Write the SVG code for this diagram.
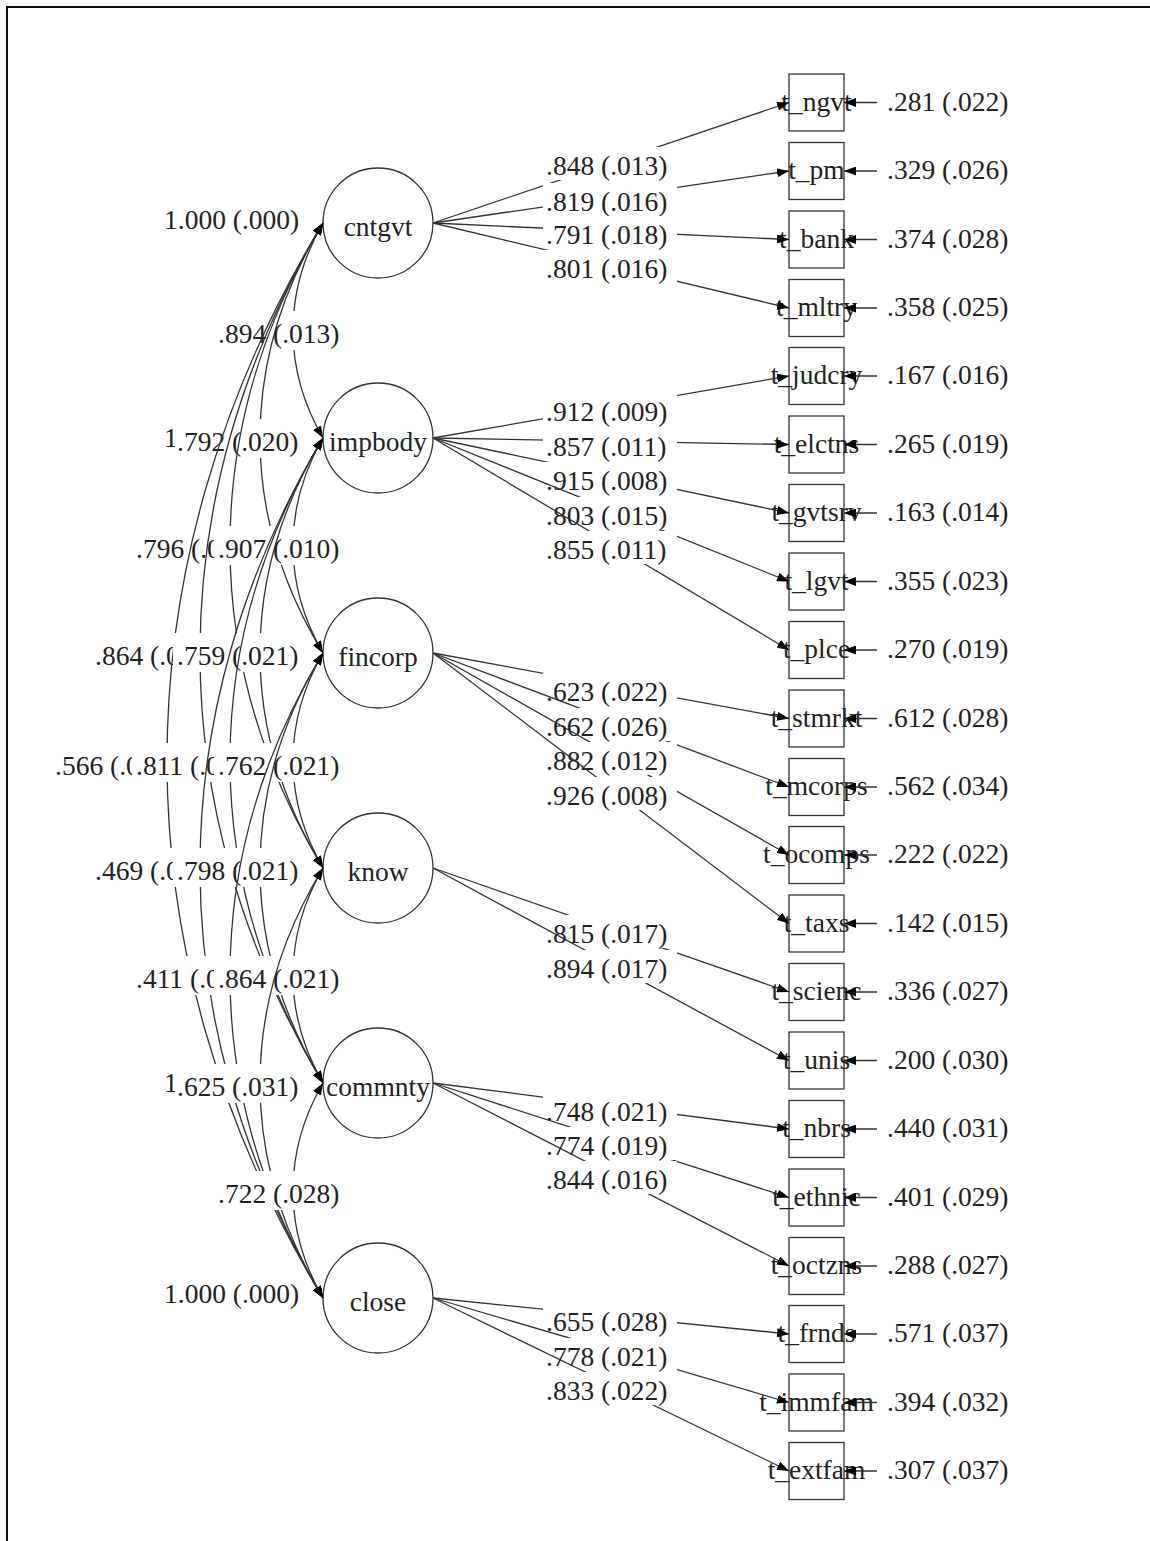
<svg xmlns="http://www.w3.org/2000/svg" width="1150" height="1541" viewBox="0 0 1150 1541">
<style>
.t{font-family:"Liberation Serif","Times New Roman",serif;font-size:27.5px;fill:#222}
.m{text-anchor:middle}
.n{fill:#fff;stroke:#333;stroke-width:1.3}
.c{fill:none;stroke:#333;stroke-width:1.3}
.bg{fill:#fff}
</style>
<defs>
<marker id="ah" viewBox="0 0 12 9" refX="12" refY="4.5" markerWidth="12" markerHeight="9" markerUnits="userSpaceOnUse" orient="auto-start-reverse">
<path d="M0,0 L12,4.5 L0,9 z" fill="#000"/>
</marker>
</defs>
<rect x="0" y="0" width="1150" height="1541" fill="#fff"/>
<path d="M7,1541 V7 H1150" fill="none" stroke="#111" stroke-width="2"/>

<g id="latents">
<g id="cntgvt"><circle class="n" cx="378" cy="223" r="55"/><text class="t m" x="378" y="236">cntgvt</text><text class="t" x="164" y="229">1.000 (.000)</text></g>
<g id="impbody"><circle class="n" cx="378" cy="438" r="55"/><text class="t m" x="378" y="451">impbody</text><text class="t" x="164" y="447">1</text></g>
<g id="fincorp"><circle class="n" cx="378" cy="653" r="55"/><text class="t m" x="378" y="666">fincorp</text></g>
<g id="know"><circle class="n" cx="378" cy="868" r="55"/><text class="t m" x="378" y="881">know</text></g>
<g id="commnty"><circle class="n" cx="378" cy="1083" r="55"/><text class="t m" x="378" y="1096">commnty</text><text class="t" x="164" y="1092">1</text></g>
<g id="close"><circle class="n" cx="378" cy="1298" r="55"/><text class="t m" x="378" y="1311">close</text><text class="t" x="164" y="1303">1.000 (.000)</text></g>
</g>

<g id="indicators">
<g id="t_ngvt"><rect class="n" x="789" y="74" width="55" height="57"/><text class="t m" x="816.5" y="110.5">t_ngvt</text></g>
<g id="t_pm"><rect class="n" x="789" y="142.5" width="55" height="57"/><text class="t m" x="816.5" y="179">t_pm</text></g>
<g id="t_bank"><rect class="n" x="789" y="211" width="55" height="57"/><text class="t m" x="816.5" y="247.5">t_bank</text></g>
<g id="t_mltry"><rect class="n" x="789" y="279.5" width="55" height="57"/><text class="t m" x="816.5" y="316">t_mltry</text></g>
<g id="t_judcry"><rect class="n" x="789" y="347.5" width="55" height="57"/><text class="t m" x="816.5" y="384">t_judcry</text></g>
<g id="t_elctns"><rect class="n" x="789" y="416" width="55" height="57"/><text class="t m" x="816.5" y="452.5">t_elctns</text></g>
<g id="t_gvtsrv"><rect class="n" x="789" y="484.5" width="55" height="57"/><text class="t m" x="816.5" y="521">t_gvtsrv</text></g>
<g id="t_lgvt"><rect class="n" x="789" y="553" width="55" height="57"/><text class="t m" x="816.5" y="589.5">t_lgvt</text></g>
<g id="t_plce"><rect class="n" x="789" y="621.5" width="55" height="57"/><text class="t m" x="816.5" y="658">t_plce</text></g>
<g id="t_stmrkt"><rect class="n" x="789" y="690" width="55" height="57"/><text class="t m" x="816.5" y="726.5">t_stmrkt</text></g>
<g id="t_mcorps"><rect class="n" x="789" y="758.5" width="55" height="57"/><text class="t m" x="816.5" y="795">t_mcorps</text></g>
<g id="t_ocomps"><rect class="n" x="789" y="826.5" width="55" height="57"/><text class="t m" x="816.5" y="863">t_ocomps</text></g>
<g id="t_taxs"><rect class="n" x="789" y="895" width="55" height="57"/><text class="t m" x="816.5" y="931.5">t_taxs</text></g>
<g id="t_scienc"><rect class="n" x="789" y="963.5" width="55" height="57"/><text class="t m" x="816.5" y="1000">t_scienc</text></g>
<g id="t_unis"><rect class="n" x="789" y="1032" width="55" height="57"/><text class="t m" x="816.5" y="1068.5">t_unis</text></g>
<g id="t_nbrs"><rect class="n" x="789" y="1100.5" width="55" height="57"/><text class="t m" x="816.5" y="1137">t_nbrs</text></g>
<g id="t_ethnic"><rect class="n" x="789" y="1169" width="55" height="57"/><text class="t m" x="816.5" y="1205.5">t_ethnic</text></g>
<g id="t_octzns"><rect class="n" x="789" y="1237.5" width="55" height="57"/><text class="t m" x="816.5" y="1274">t_octzns</text></g>
<g id="t_frnds"><rect class="n" x="789" y="1305.5" width="55" height="57"/><text class="t m" x="816.5" y="1342">t_frnds</text></g>
<g id="t_immfam"><rect class="n" x="789" y="1374" width="55" height="57"/><text class="t m" x="816.5" y="1410.5">t_immfam</text></g>
<g id="t_extfam"><rect class="n" x="789" y="1442.5" width="55" height="57"/><text class="t m" x="816.5" y="1479">t_extfam</text></g>
</g>

<g id="connectors">
<!-- covariances -->
<g><path class="c" marker-start="url(#ah)" marker-end="url(#ah)" d="M323,223 C283,292 283,369 323,438"/><rect class="bg" x="214" y="311" width="129" height="39"/><text class="t" x="218" y="343">.894 (.013)</text></g>
<g><path class="c" marker-start="url(#ah)" marker-end="url(#ah)" d="M323,223 C239,361 239,515 323,653"/><rect class="bg" x="175" y="419" width="127" height="39"/><text class="t" x="177" y="451">.792 (.020)</text></g>
<g><path class="c" marker-start="url(#ah)" marker-end="url(#ah)" d="M323,223 C199,429 199,662 323,868"/><rect class="bg" x="132" y="526" width="129" height="39"/><text class="t" x="136" y="558">.796 (.0</text></g>
<g><path class="c" marker-start="url(#ah)" marker-end="url(#ah)" d="M323,223 C159,498 159,808 323,1083"/><rect class="bg" x="91" y="633" width="129" height="39"/><text class="t" x="95" y="665">.864 (.0</text></g>
<g><path class="c" marker-start="url(#ah)" marker-end="url(#ah)" d="M323,223 C115,567 115,954 323,1298"/><rect class="bg" x="51" y="743" width="129" height="39"/><text class="t" x="55" y="775">.566 (.0</text></g>
<g><path class="c" marker-start="url(#ah)" marker-end="url(#ah)" d="M323,438 C283,507 283,584 323,653"/><rect class="bg" x="214" y="526" width="129" height="39"/><text class="t" x="218" y="558">.907 (.010)</text></g>
<g><path class="c" marker-start="url(#ah)" marker-end="url(#ah)" d="M323,438 C239,576 239,730 323,868"/><rect class="bg" x="173" y="633" width="129" height="39"/><text class="t" x="177" y="665">.759 (.021)</text></g>
<g><path class="c" marker-start="url(#ah)" marker-end="url(#ah)" d="M323,438 C199,644 199,877 323,1083"/><rect class="bg" x="132" y="743" width="129" height="39"/><text class="t" x="136" y="775">.811 (.0</text></g>
<g><path class="c" marker-start="url(#ah)" marker-end="url(#ah)" d="M323,438 C159,713 159,1023 323,1298"/><rect class="bg" x="91" y="848" width="129" height="39"/><text class="t" x="95" y="880">.469 (.0</text></g>
<g><path class="c" marker-start="url(#ah)" marker-end="url(#ah)" d="M323,653 C283,722 283,799 323,868"/><rect class="bg" x="214" y="743" width="129" height="39"/><text class="t" x="218" y="775">.762 (.021)</text></g>
<g><path class="c" marker-start="url(#ah)" marker-end="url(#ah)" d="M323,653 C239,791 239,945 323,1083"/><rect class="bg" x="173" y="848" width="129" height="39"/><text class="t" x="177" y="880">.798 (.021)</text></g>
<g><path class="c" marker-start="url(#ah)" marker-end="url(#ah)" d="M323,653 C199,859 199,1092 323,1298"/><rect class="bg" x="132" y="956" width="129" height="39"/><text class="t" x="136" y="988">.411 (.0</text></g>
<g><path class="c" marker-start="url(#ah)" marker-end="url(#ah)" d="M323,868 C283,937 283,1014 323,1083"/><rect class="bg" x="214" y="956" width="129" height="39"/><text class="t" x="218" y="988">.864 (.021)</text></g>
<g><path class="c" marker-start="url(#ah)" marker-end="url(#ah)" d="M323,868 C239,1006 239,1160 323,1298"/><rect class="bg" x="175" y="1064" width="127" height="39"/><text class="t" x="177" y="1096">.625 (.031)</text></g>
<g><path class="c" marker-start="url(#ah)" marker-end="url(#ah)" d="M323,1083 C283,1152 283,1229 323,1298"/><rect class="bg" x="214" y="1171" width="129" height="39"/><text class="t" x="218" y="1203">.722 (.028)</text></g>

<!-- loadings -->
<g><line class="c" marker-end="url(#ah)" x1="433" y1="223" x2="789" y2="102.5"/><rect class="bg" x="543" y="147" width="134" height="33"/><text class="t" x="546" y="175">.848 (.013)</text></g>
<g><line class="c" marker-end="url(#ah)" x1="433" y1="223" x2="789" y2="171"/><rect class="bg" x="543" y="183" width="134" height="33"/><text class="t" x="546" y="211">.819 (.016)</text></g>
<g><line class="c" marker-end="url(#ah)" x1="433" y1="223" x2="789" y2="239.5"/><rect class="bg" x="543" y="216" width="134" height="33"/><text class="t" x="546" y="244">.791 (.018)</text></g>
<g><line class="c" marker-end="url(#ah)" x1="433" y1="223" x2="789" y2="308"/><rect class="bg" x="543" y="250" width="134" height="33"/><text class="t" x="546" y="278">.801 (.016)</text></g>

<g><line class="c" marker-end="url(#ah)" x1="433" y1="438" x2="789" y2="376"/><rect class="bg" x="543" y="393" width="134" height="33"/><text class="t" x="546" y="421">.912 (.009)</text></g>
<g><line class="c" marker-end="url(#ah)" x1="433" y1="438" x2="789" y2="444.5"/><rect class="bg" x="543" y="428" width="134" height="33"/><text class="t" x="546" y="456">.857 (.011)</text></g>
<g><line class="c" marker-end="url(#ah)" x1="433" y1="438" x2="789" y2="513"/><rect class="bg" x="543" y="462" width="134" height="33"/><text class="t" x="546" y="490">.915 (.008)</text></g>
<g><line class="c" marker-end="url(#ah)" x1="433" y1="438" x2="789" y2="581.5"/><rect class="bg" x="543" y="497" width="134" height="33"/><text class="t" x="546" y="525">.803 (.015)</text></g>
<g><line class="c" marker-end="url(#ah)" x1="433" y1="438" x2="789" y2="650"/><rect class="bg" x="543" y="531" width="134" height="33"/><text class="t" x="546" y="559">.855 (.011)</text></g>

<g><line class="c" marker-end="url(#ah)" x1="433" y1="653" x2="789" y2="718.5"/><rect class="bg" x="543" y="673" width="134" height="33"/><text class="t" x="546" y="701">.623 (.022)</text></g>
<g><line class="c" marker-end="url(#ah)" x1="433" y1="653" x2="789" y2="787"/><rect class="bg" x="543" y="708" width="134" height="33"/><text class="t" x="546" y="736">.662 (.026)</text></g>
<g><line class="c" marker-end="url(#ah)" x1="433" y1="653" x2="789" y2="855"/><rect class="bg" x="543" y="742" width="134" height="33"/><text class="t" x="546" y="770">.882 (.012)</text></g>
<g><line class="c" marker-end="url(#ah)" x1="433" y1="653" x2="789" y2="923.5"/><rect class="bg" x="543" y="777" width="134" height="33"/><text class="t" x="546" y="805">.926 (.008)</text></g>

<g><line class="c" marker-end="url(#ah)" x1="433" y1="868" x2="789" y2="992"/><rect class="bg" x="543" y="915" width="134" height="33"/><text class="t" x="546" y="943">.815 (.017)</text></g>
<g><line class="c" marker-end="url(#ah)" x1="433" y1="868" x2="789" y2="1060.5"/><rect class="bg" x="543" y="950" width="134" height="33"/><text class="t" x="546" y="978">.894 (.017)</text></g>

<g><line class="c" marker-end="url(#ah)" x1="433" y1="1083" x2="789" y2="1129"/><rect class="bg" x="543" y="1093" width="134" height="33"/><text class="t" x="546" y="1121">.748 (.021)</text></g>
<g><line class="c" marker-end="url(#ah)" x1="433" y1="1083" x2="789" y2="1197.5"/><rect class="bg" x="543" y="1127" width="134" height="33"/><text class="t" x="546" y="1155">.774 (.019)</text></g>
<g><line class="c" marker-end="url(#ah)" x1="433" y1="1083" x2="789" y2="1266"/><rect class="bg" x="543" y="1161" width="134" height="33"/><text class="t" x="546" y="1189">.844 (.016)</text></g>

<g><line class="c" marker-end="url(#ah)" x1="433" y1="1298" x2="789" y2="1334"/><rect class="bg" x="543" y="1303" width="134" height="33"/><text class="t" x="546" y="1331">.655 (.028)</text></g>
<g><line class="c" marker-end="url(#ah)" x1="433" y1="1298" x2="789" y2="1402.5"/><rect class="bg" x="543" y="1338" width="134" height="33"/><text class="t" x="546" y="1366">.778 (.021)</text></g>
<g><line class="c" marker-end="url(#ah)" x1="433" y1="1298" x2="789" y2="1471"/><rect class="bg" x="543" y="1372" width="134" height="33"/><text class="t" x="546" y="1400">.833 (.022)</text></g>

<!-- residual variances -->
<g><line class="c" marker-end="url(#ah)" x1="877" y1="102.5" x2="844" y2="102.5"/><text class="t" x="887" y="110.5">.281 (.022)</text></g>
<g><line class="c" marker-end="url(#ah)" x1="877" y1="171" x2="844" y2="171"/><text class="t" x="887" y="179">.329 (.026)</text></g>
<g><line class="c" marker-end="url(#ah)" x1="877" y1="239.5" x2="844" y2="239.5"/><text class="t" x="887" y="247.5">.374 (.028)</text></g>
<g><line class="c" marker-end="url(#ah)" x1="877" y1="308" x2="844" y2="308"/><text class="t" x="887" y="316">.358 (.025)</text></g>
<g><line class="c" marker-end="url(#ah)" x1="877" y1="376" x2="844" y2="376"/><text class="t" x="887" y="384">.167 (.016)</text></g>
<g><line class="c" marker-end="url(#ah)" x1="877" y1="444.5" x2="844" y2="444.5"/><text class="t" x="887" y="452.5">.265 (.019)</text></g>
<g><line class="c" marker-end="url(#ah)" x1="877" y1="513" x2="844" y2="513"/><text class="t" x="887" y="521">.163 (.014)</text></g>
<g><line class="c" marker-end="url(#ah)" x1="877" y1="581.5" x2="844" y2="581.5"/><text class="t" x="887" y="589.5">.355 (.023)</text></g>
<g><line class="c" marker-end="url(#ah)" x1="877" y1="650" x2="844" y2="650"/><text class="t" x="887" y="658">.270 (.019)</text></g>
<g><line class="c" marker-end="url(#ah)" x1="877" y1="718.5" x2="844" y2="718.5"/><text class="t" x="887" y="726.5">.612 (.028)</text></g>
<g><line class="c" marker-end="url(#ah)" x1="877" y1="787" x2="844" y2="787"/><text class="t" x="887" y="795">.562 (.034)</text></g>
<g><line class="c" marker-end="url(#ah)" x1="877" y1="855" x2="844" y2="855"/><text class="t" x="887" y="863">.222 (.022)</text></g>
<g><line class="c" marker-end="url(#ah)" x1="877" y1="923.5" x2="844" y2="923.5"/><text class="t" x="887" y="931.5">.142 (.015)</text></g>
<g><line class="c" marker-end="url(#ah)" x1="877" y1="992" x2="844" y2="992"/><text class="t" x="887" y="1000">.336 (.027)</text></g>
<g><line class="c" marker-end="url(#ah)" x1="877" y1="1060.5" x2="844" y2="1060.5"/><text class="t" x="887" y="1068.5">.200 (.030)</text></g>
<g><line class="c" marker-end="url(#ah)" x1="877" y1="1129" x2="844" y2="1129"/><text class="t" x="887" y="1137">.440 (.031)</text></g>
<g><line class="c" marker-end="url(#ah)" x1="877" y1="1197.5" x2="844" y2="1197.5"/><text class="t" x="887" y="1205.5">.401 (.029)</text></g>
<g><line class="c" marker-end="url(#ah)" x1="877" y1="1266" x2="844" y2="1266"/><text class="t" x="887" y="1274">.288 (.027)</text></g>
<g><line class="c" marker-end="url(#ah)" x1="877" y1="1334" x2="844" y2="1334"/><text class="t" x="887" y="1342">.571 (.037)</text></g>
<g><line class="c" marker-end="url(#ah)" x1="877" y1="1402.5" x2="844" y2="1402.5"/><text class="t" x="887" y="1410.5">.394 (.032)</text></g>
<g><line class="c" marker-end="url(#ah)" x1="877" y1="1471" x2="844" y2="1471"/><text class="t" x="887" y="1479">.307 (.037)</text></g>
</g>
</svg>
